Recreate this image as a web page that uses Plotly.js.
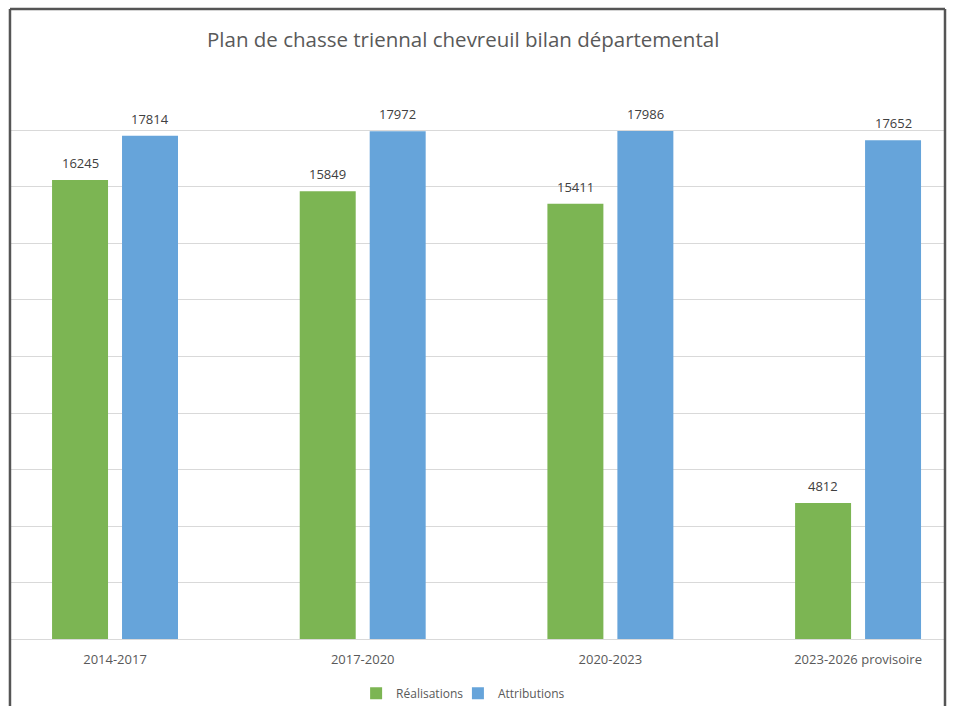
<!DOCTYPE html>
<html>
<head>
<meta charset="utf-8">
<script src="https://cdn.plot.ly/plotly-3.0.1.min.js"></script>
<style>html,body{margin:0;padding:0;background:#fff;}#chart{width:953px;height:706px;}</style>
</head>
<body>
<div id="chart"></div>
<script>
var categories = ["2014-2017", "2017-2020", "2020-2023", "2023-2026 provisoire"];
var realisations = [16245, 15849, 15411, 4812];
var attributions = [17814, 17972, 17986, 17652];
var seriesNames = ["Réalisations", "Attributions"];

var FONT = "Open Sans, Noto Sans, sans-serif";
var traces = [
  {type: "bar", name: seriesNames[0], x: categories, y: realisations,
   marker: {color: "#7cb553"}, hoverinfo: "skip", legend: "legend"},
  {type: "bar", name: seriesNames[1], x: categories, y: attributions,
   marker: {color: "#66a4da"}, hoverinfo: "skip", legend: "legend2"}
];

var annotations = [];
[realisations, attributions].forEach(function(vals, s) {
  vals.forEach(function(v, i) {
    annotations.push({x: categories[i], y: v, xref: "x", yref: "y",
      text: String(v), showarrow: false, xshift: s === 0 ? -35 : 35,
      yanchor: "middle", yshift: 17,
      font: {family: FONT, size: 13, color: "#404040"}});
  });
});

var legendBase = {orientation: "h", yanchor: "middle", y: -0.096, xanchor: "left",
  font: {family: FONT, size: 12, color: "#595959"}, itemwidth: 30,
  bgcolor: "rgba(0,0,0,0)"};

var layout = {
  width: 953, height: 706,
  margin: {l: 11, r: 8, t: 73, b: 67, autoexpand: false},
  paper_bgcolor: "#ffffff", plot_bgcolor: "#ffffff",
  title: {text: "Plan de chasse triennal chevreuil bilan départemental",
    x: 0.486, xanchor: "center", y: 0.944, yanchor: "middle",
    font: {family: FONT, size: 20.5, color: "#595959"}},
  barmode: "group", bargap: 0.435, bargroupgap: 0.2,
  xaxis: {type: "category", range: [-0.42, 3.351], showgrid: false,
    showline: false, zeroline: false, ticks: "", ticklabelstandoff: 11,
    automargin: false,
    tickfont: {family: FONT, size: 13, color: "#595959"}, fixedrange: true},
  yaxis: {range: [0, 20035], tick0: 0, dtick: 2000, showticklabels: false,
    showgrid: true, gridcolor: "#d9d9d9", gridwidth: 1,
    zeroline: true, zerolinecolor: "#d9d9d9", zerolinewidth: 1,
    showline: false, ticks: "", fixedrange: true, automargin: false},
  showlegend: true,
  legend: Object.assign({}, legendBase, {x: 0.3695}),
  legend2: Object.assign({}, legendBase, {x: 0.4785}),
  annotations: annotations,
  shapes: [
    {type: "line", xref: "paper", yref: "paper", x0: -0.0011, x1: -0.0011, y0: 1.113, y1: -0.2, line: {color: "#555555", width: 2.5}},
    {type: "line", xref: "paper", yref: "paper", x0: 1.0, x1: 1.0, y0: 1.113, y1: -0.2, line: {color: "#555555", width: 2.5}},
    {type: "line", xref: "paper", yref: "paper", x0: -0.0011, x1: 1.0, y0: 1.113, y1: 1.113, line: {color: "#555555", width: 2.5}}
  ]
};

Plotly.newPlot("chart", traces, layout, {displayModeBar: false, staticPlot: true});
</script>
</body>
</html>
